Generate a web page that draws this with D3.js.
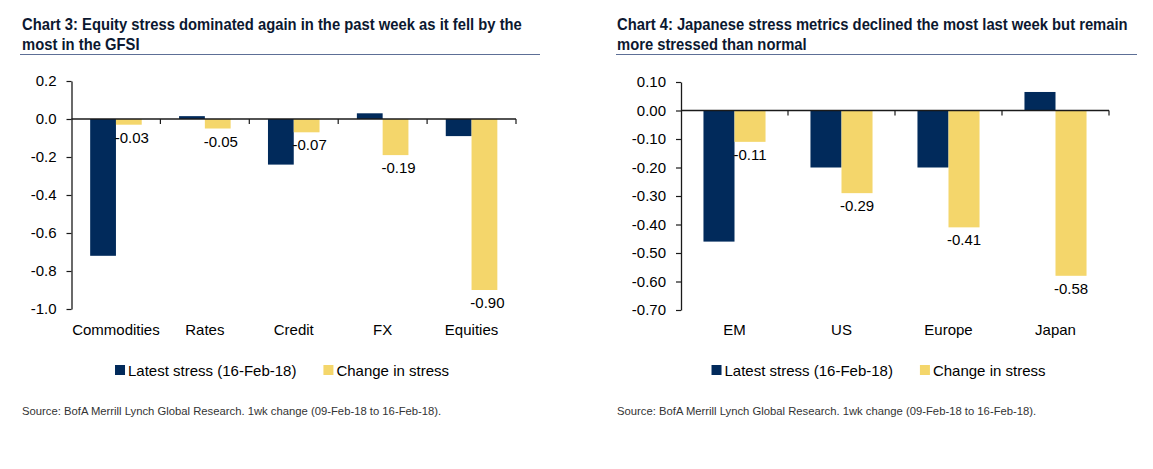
<!DOCTYPE html>
<html>
<head>
<meta charset="utf-8">
<script src="https://cdn.jsdelivr.net/npm/d3@7"></script>
<style>
  html, body { margin: 0; padding: 0; background: #ffffff; }
  svg { display: block; }
  text { font-family: "Liberation Sans", Arial, sans-serif; }
</style>
</head>
<body>
<svg id="chart" width="1153" height="469"></svg>
<script>
// ---------------- Data ----------------
const seriesNames = ["Latest stress (16-Feb-18)", "Change in stress"];

const title3 = ["Chart 3: Equity stress dominated again in the past week as it fell by the", "most in the GFSI"];
const categories3 = ["Commodities", "Rates", "Credit", "FX", "Equities"];
const latest3 = [-0.72, 0.015, -0.24, 0.03, -0.09];
const change3 = [-0.03, -0.05, -0.07, -0.19, -0.90];
const yTicks3 = [0.2, 0.0, -0.2, -0.4, -0.6, -0.8, -1.0];

const title4 = ["Chart 4: Japanese stress metrics declined the most last week but remain", "more stressed than normal"];
const categories4 = ["EM", "US", "Europe", "Japan"];
const latest4 = [-0.46, -0.20, -0.20, 0.065];
const change4 = [-0.11, -0.29, -0.41, -0.58];
const yTicks4 = [0.10, 0.00, -0.10, -0.20, -0.30, -0.40, -0.50, -0.60, -0.70];

const sourceText = "Source: BofA Merrill Lynch Global Research. 1wk change (09-Feb-18 to 16-Feb-18).";

// ---------------- Style ----------------
const NAVY = "#012a5b";
const YELLOW = "#f4d66b";
const TITLE_COLOR = "#0c1830";
const RULE_COLOR = "#5d6f96";

const svg = d3.select("#chart");

function drawChart(cfg) {
  const g = svg.append("g");

  // Title (bold, horizontally condensed to the reference width)
  const tg = g.append("g");
  const t1 = tg.append("text")
    .attr("x", 0).attr("y", 30.5)
    .attr("font-size", 16).attr("font-weight", "bold")
    .attr("fill", TITLE_COLOR).text(cfg.title[0]);
  tg.append("text")
    .attr("x", 0).attr("y", 50.5)
    .attr("font-size", 16).attr("font-weight", "bold")
    .attr("fill", TITLE_COLOR).text(cfg.title[1]);
  const s = cfg.titleWidth / t1.node().getComputedTextLength();
  tg.attr("transform", `translate(${cfg.left},0) scale(${s},1)`);

  // Rule under title
  g.append("line")
    .attr("x1", cfg.ruleX[0]).attr("x2", cfg.ruleX[1])
    .attr("y1", 54.5).attr("y2", 54.5)
    .attr("stroke", RULE_COLOR).attr("stroke-width", 1);

  // Scales
  const y = d3.scaleLinear().domain(cfg.yDomain).range([cfg.plotBottom, cfg.plotTop]);
  const x0 = d3.scaleBand().domain(cfg.categories).range([cfg.plotLeft, cfg.plotRight]).padding(0);
  const bw = x0.bandwidth();
  const x1 = d3.scaleBand().domain(seriesNames).range([bw * 0.21, bw * 0.79]).padding(0);

  const rows = cfg.categories.map((c, i) => ({ cat: c, values: [cfg.latest[i], cfg.change[i]] }));

  // Bars
  const groups = g.selectAll(".grp").data(rows).enter().append("g")
    .attr("transform", d => `translate(${x0(d.cat)},0)`);
  groups.selectAll("rect")
    .data(d => d.values.map((v, j) => ({ v, s: seriesNames[j], j })))
    .enter().append("rect")
    .attr("x", d => x1(d.s))
    .attr("width", x1.bandwidth())
    .attr("y", d => y(Math.max(0, d.v)))
    .attr("height", d => Math.abs(y(d.v) - y(0)))
    .attr("fill", d => d.j === 0 ? NAVY : YELLOW);

  // Value labels (change series)
  groups.append("text")
    .attr("x", d => x1(seriesNames[1]) + x1.bandwidth() / 2 + cfg.labelDx)
    .attr("y", d => y(d.values[1]) + 18)
    .attr("text-anchor", "middle")
    .attr("font-size", 15).attr("fill", "#000")
    .text(d => d.values[1].toFixed(2));

  // Y axis
  const yAxis = d3.axisLeft(y).tickValues(cfg.yTicks).tickSize(5).tickSizeOuter(0)
    .tickFormat(d => (Math.abs(d) < 1e-9 ? 0 : d).toFixed(cfg.decimals));
  const ya = g.append("g").attr("transform", `translate(${cfg.plotLeft},0)`).call(yAxis);
  ya.select(".domain").attr("stroke", "#1a1a1a").attr("stroke-width", 1.3);
  ya.selectAll(".tick line").attr("stroke", "#1a1a1a").attr("stroke-width", 1.2);
  ya.selectAll(".tick text")
    .attr("font-family", "'Liberation Sans', Arial, sans-serif")
    .attr("font-size", 15).attr("fill", "#000").attr("x", -15);

  // X axis (at zero) with category-boundary tick marks
  const y0 = y(0);
  g.append("line")
    .attr("x1", cfg.plotLeft).attr("x2", cfg.plotRight)
    .attr("y1", y0).attr("y2", y0)
    .attr("stroke", "#1a1a1a").attr("stroke-width", 1.3);
  g.selectAll(".xtick").data(cfg.categories).enter().append("line")
    .attr("x1", d => x0(d) + bw).attr("x2", d => x0(d) + bw)
    .attr("y1", y0).attr("y2", y0 + 5)
    .attr("stroke", "#1a1a1a").attr("stroke-width", 1.2);

  // Category labels
  g.selectAll(".cat").data(cfg.categories).enter().append("text")
    .attr("x", d => x0(d) + bw / 2)
    .attr("y", 335)
    .attr("text-anchor", "middle")
    .attr("font-size", 15).attr("fill", "#000")
    .text(d => d);

  // Legend (centered under rule width)
  const leg = g.append("g");
  let cx = 0;
  seriesNames.forEach((name, j) => {
    leg.append("rect").attr("x", cx).attr("y", 365).attr("width", 10).attr("height", 10)
      .attr("fill", j === 0 ? NAVY : YELLOW);
    const tx = leg.append("text").attr("x", cx + 13).attr("y", 375.5)
      .attr("font-size", 15).attr("fill", "#000").text(name);
    const w = tx.node().getComputedTextLength();
    cx += 13 + w + (j === 0 ? 27 : 0);
  });
  const center = (cfg.ruleX[0] + cfg.ruleX[1]) / 2;
  leg.attr("transform", `translate(${center - cx / 2 + 2},0)`);

  // Source
  const sg = g.append("g");
  const src = sg.append("text")
    .attr("x", 0).attr("y", 415)
    .attr("font-size", 11).attr("fill", "#333").text(sourceText);
  const ss = 420 / src.node().getComputedTextLength();
  sg.attr("transform", `translate(${cfg.left},0) scale(${ss},1)`);
}

drawChart({
  title: title3, left: 22, titleWidth: 500, ruleX: [20, 540],
  categories: categories3, latest: latest3, change: change3,
  yDomain: [-1.0, 0.2], yTicks: yTicks3, decimals: 1, labelDx: 3,
  plotLeft: 71.5, plotRight: 516, plotTop: 81, plotBottom: 309
});

drawChart({
  title: title4, left: 617, titleWidth: 511, ruleX: [616, 1137],
  categories: categories4, latest: latest4, change: change4,
  yDomain: [-0.7, 0.1], yTicks: yTicks4, decimals: 2, labelDx: 0,
  plotLeft: 681, plotRight: 1109, plotTop: 82, plotBottom: 310
});
</script>
</body>
</html>
